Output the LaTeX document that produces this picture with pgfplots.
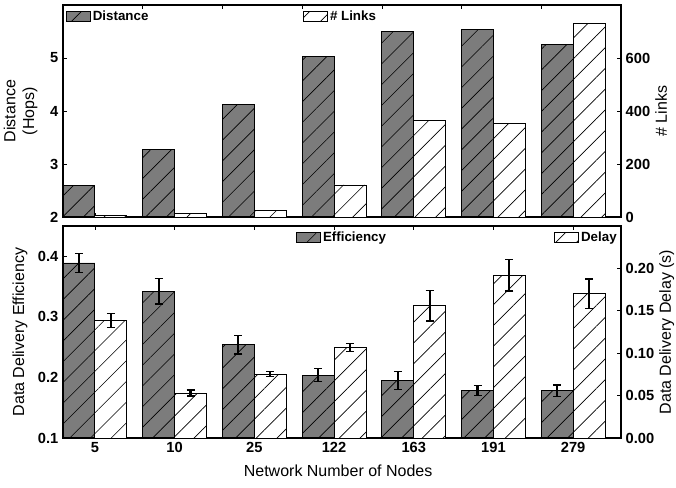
\documentclass[border=0pt]{standalone}
\usepackage{pgfplots}
\pgfplotsset{compat=1.18}
\usepackage{pgfplotstable}
\usepackage{fontspec}
\setmainfont{Liberation Sans}
\usetikzlibrary{patterns.meta}
\definecolor{darkbar}{RGB}{124,124,124}

\pgfplotstableread{
x dist links eff effe delay delaye
0 2.60 6   0.389 0.016 0.1385 0.0083
1 3.27 13  0.342 0.021 0.053  0.0036
2 4.12 24  0.254 0.0155 0.0754 0.0028
3 5.03 121 0.204 0.011 0.107  0.0048
4 5.50 365 0.195 0.0146 0.156  0.018
5 5.54 353 0.178 0.0083 0.192  0.0185
6 5.25 731 0.178 0.0097 0.170  0.0175
}\data

\pgfplotsset{
  common/.style={
    scale only axis, width=418.5pt, height=159pt,
    xmin=-0.4, xmax=6.6,
    tick align=inside, major tick length=3pt,
    axis line style={line width=0.9pt},
    every tick/.style={black, line width=0.5pt},
    tick label style={font=\bfseries\fontsize{11}{13}\selectfont},
    label style={font=\fontsize{12}{14}\selectfont},
    /pgf/number format/assume math mode=true,
    legend style={draw=none, fill=none, inner sep=0pt, anchor=north west,
      nodes={inner sep=1.5pt}, font=\bfseries\fontsize{10}{12}\selectfont},
    legend cell align=left,
    legend image code/.code={\draw[##1] (0pt,-3.75pt) rectangle (18pt,3.75pt);},
  },
  darkbars/.style={ybar, bar width=0.4, bar shift=-0.2, draw=black, line width=0.6pt, fill=darkbar,
    postaction={pattern={Lines[angle=45,distance=11pt,line width=0.5pt]}, pattern color=black}},
  whitebars/.style={ybar, bar width=0.4, bar shift=0.2, draw=black, line width=0.6pt, fill=white,
    postaction={pattern={Lines[angle=45,distance=11pt,line width=0.5pt]}, pattern color=black}},
  ebars/.style={draw=none, mark=none, forget plot,
    error bars/.cd, y dir=both, y explicit,
    error bar style={draw=black, solid, line width=1.6pt},
    error mark options={draw=black, rotate=90, mark size=3pt, line width=1pt}},
}

\begin{document}
\begin{tikzpicture}
\useasboundingbox (0,0) rectangle (507pt,365.25pt);
% ---------- top, left axis
\begin{axis}[common, at={(47.25pt,202.5pt)}, anchor=south west,
  ymin=2, ymax=6, ytick={2,3,4,5}, ytick pos=left,
  xtick={0,...,6}, xtick pos=left, xticklabels={},
  ylabel={Distance\\(Hops)}, ylabel style={align=center, at={(axis description cs:-0.076,0.5)}, anchor=center},
  legend style={at={(axis description cs:0.005,0.985)}}]
\addplot[darkbars] table[x=x,y=dist] {\data};
\addlegendentry{Distance}
\end{axis}
% ---------- top, right axis
\begin{axis}[common, at={(47.25pt,202.5pt)}, anchor=south west,
  ymin=0, ymax=800, ytick={0,200,400,600}, ytick pos=right, yticklabel pos=right,
  xtick={-0.4,0.6,1.6,2.6,3.6,4.6,5.6}, xtick pos=right, xticklabels={},
  ylabel={\# Links}, ylabel style={at={(axis description cs:1.072,0.5)}, anchor=center},
  legend style={at={(axis description cs:0.43,0.985)}}]
\addplot[whitebars] table[x=x,y=links] {\data};
\addlegendentry{\# Links}
\end{axis}
% ---------- bottom, left axis
\begin{axis}[common, at={(47.25pt,36.75pt)}, anchor=south west,
  ymin=0.1, ymax=0.45, ytick={0.1,0.2,0.3,0.4}, ytick pos=left,
  yticklabel style={/pgf/number format/.cd, fixed, fixed zerofill, precision=1},
  xtick={0,...,6}, xtick pos=both, xticklabel pos=left,
  xticklabels={5,10,25,122,163,191,279},
  xlabel={Network Number of Nodes}, xlabel style={at={(axis description cs:0.493,-0.156)}, anchor=center},
  ylabel={Data Delivery Efficiency}, ylabel style={at={(axis description cs:-0.077,0.5)}, anchor=center},
  legend style={at={(axis description cs:0.4176,0.985)}}]
\addplot[darkbars] table[x=x,y=eff] {\data};
\addlegendentry{Efficiency}
\addplot[ebars] table[x expr=\thisrow{x}-0.2,y=eff,y error=effe] {\data};
\end{axis}
% ---------- bottom, right axis
\begin{axis}[common, at={(47.25pt,36.75pt)}, anchor=south west,
  ymin=0, ymax=0.25, ytick={0,0.05,0.10,0.15,0.20}, ytick pos=right, yticklabel pos=right,
  yticklabel style={/pgf/number format/.cd, fixed, fixed zerofill, precision=2},
  xtick=\empty,
  ylabel={Data Delivery Delay (s)}, ylabel style={at={(axis description cs:1.082,0.5)}, anchor=center},
  legend style={at={(axis description cs:0.88,0.985)}}]
\addplot[whitebars] table[x=x,y=delay] {\data};
\addlegendentry{Delay}
\addplot[ebars] table[x expr=\thisrow{x}+0.2,y=delay,y error=delaye] {\data};
\end{axis}
\end{tikzpicture}
\end{document}
